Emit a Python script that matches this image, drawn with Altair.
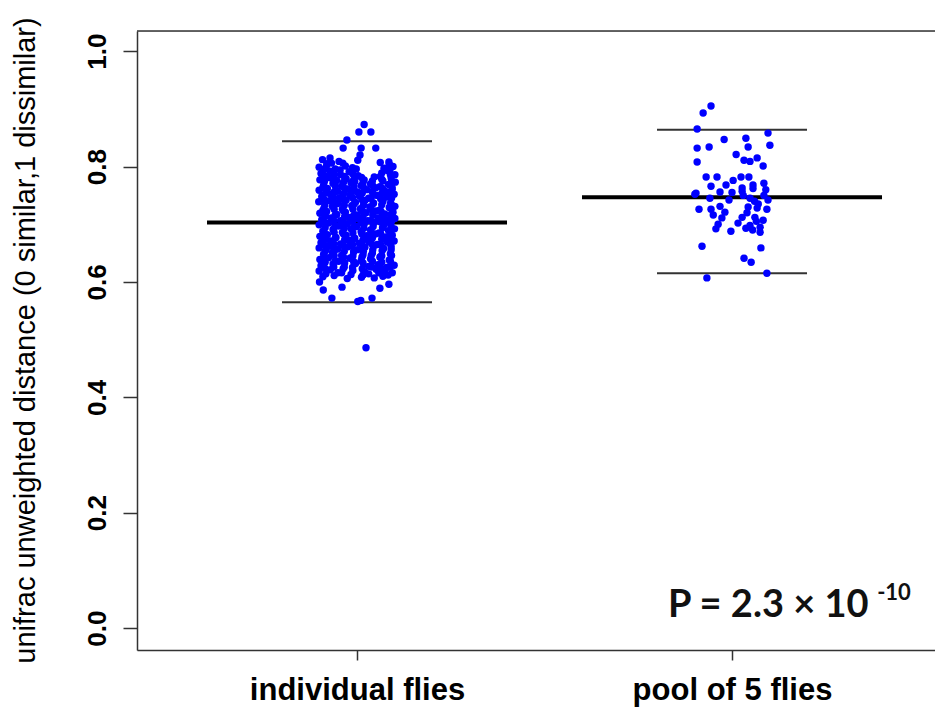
import altair as alt
import pandas as pd

# ---- data ----
groups = ["individual flies", "pool of 5 flies"]
centers = [1, 2]
means = [0.703, 0.747]
upper = [0.844, 0.864]
lower = [0.565, 0.615]

# (jitter offset, value) for individual flies
ind_points = [
    (0.019, 0.873), (0.005, 0.860), (0.037, 0.860), (-0.027, 0.846), (0.011, 0.832),
    (0.050, 0.832), (-0.037, 0.832), (0.008, 0.820), (-0.072, 0.815),
    (-0.067, 0.572), (0.010, 0.568), (0.040, 0.572), (-0.090, 0.586), (-0.040, 0.591),
    (0.061, 0.589), (0.085, 0.596), (-0.100, 0.600), (0.012, 0.608), (0.024, 0.486), (0.002, 0.566),
    (-0.092, 0.812), (-0.068, 0.806), (-0.048, 0.809), (0.002, 0.811), (0.062, 0.807), (0.086, 0.804),
    (-0.101, 0.799), (-0.081, 0.802), (-0.058, 0.796), (-0.031, 0.801), (-0.012, 0.798), (0.072, 0.797), (0.096, 0.800),
    (-0.096, 0.788), (-0.072, 0.792), (-0.044, 0.786), (-0.021, 0.791), (0.003, 0.784), (0.066, 0.789), (0.081, 0.793), (0.101, 0.786),
    (-0.099, 0.777), (-0.076, 0.781), (-0.054, 0.776), (-0.029, 0.779), (-0.006, 0.774), (0.019, 0.777), (0.046, 0.782), (0.069, 0.775), (0.091, 0.780),
    (-0.089, 0.768), (-0.064, 0.771), (-0.041, 0.766), (-0.016, 0.772), (0.011, 0.767), (0.036, 0.770), (0.061, 0.765), (0.084, 0.769), (0.102, 0.773),
    (-0.101, 0.759), (-0.079, 0.762), (-0.052, 0.757), (-0.024, 0.761), (0.001, 0.756), (0.026, 0.760), (0.049, 0.763), (0.076, 0.757), (0.094, 0.761),
    (-0.094, 0.748), (-0.071, 0.752), (-0.046, 0.746), (-0.019, 0.751), (0.006, 0.749), (0.031, 0.745), (0.054, 0.750), (0.081, 0.747), (0.099, 0.752),
    (-0.102, 0.739), (-0.074, 0.741), (-0.051, 0.736), (-0.029, 0.742), (-0.004, 0.738), (0.021, 0.741), (0.044, 0.737), (0.069, 0.740), (0.091, 0.735),
    (-0.088, 0.728), (-0.066, 0.731), (-0.039, 0.726), (-0.014, 0.732), (0.009, 0.727), (0.034, 0.730), (0.061, 0.725), (0.086, 0.729), (0.101, 0.731),
    (-0.099, 0.719), (-0.081, 0.722), (-0.054, 0.717), (-0.031, 0.721), (-0.001, 0.716), (0.024, 0.720), (0.051, 0.723), (0.074, 0.718), (0.096, 0.721),
    (-0.094, 0.708), (-0.069, 0.711), (-0.044, 0.706), (-0.021, 0.712), (0.004, 0.709), (0.029, 0.706), (0.056, 0.711), (0.079, 0.707), (0.101, 0.710),
    (-0.101, 0.699), (-0.076, 0.702), (-0.049, 0.697), (-0.026, 0.701), (-0.001, 0.696), (0.019, 0.700), (0.046, 0.703), (0.071, 0.698), (0.089, 0.701),
    (-0.091, 0.688), (-0.064, 0.691), (-0.039, 0.686), (-0.016, 0.692), (0.011, 0.687), (0.036, 0.690), (0.059, 0.685), (0.084, 0.689), (0.100, 0.692),
    (-0.099, 0.679), (-0.079, 0.682), (-0.056, 0.677), (-0.029, 0.681), (-0.006, 0.676), (0.026, 0.680), (0.049, 0.683), (0.076, 0.678), (0.094, 0.681),
    (-0.096, 0.668), (-0.071, 0.671), (-0.044, 0.666), (-0.021, 0.672), (0.006, 0.667), (0.031, 0.670), (0.054, 0.665), (0.081, 0.669), (0.099, 0.671),
    (-0.101, 0.659), (-0.074, 0.662), (-0.051, 0.657), (-0.024, 0.661), (0.001, 0.656), (0.021, 0.660), (0.046, 0.663), (0.071, 0.658), (0.091, 0.661),
    (-0.089, 0.648), (-0.066, 0.651), (-0.041, 0.646), (-0.009, 0.652), (0.016, 0.647), (0.041, 0.650), (0.066, 0.645), (0.089, 0.649),
    (-0.099, 0.639), (-0.076, 0.642), (-0.049, 0.636), (-0.019, 0.641), (0.011, 0.637), (0.036, 0.640), (0.061, 0.643), (0.086, 0.638),
    (-0.096, 0.628), (-0.064, 0.631), (-0.034, 0.626), (-0.004, 0.632), (0.031, 0.627), (0.056, 0.630), (0.079, 0.625), (0.099, 0.629),
    (-0.101, 0.619), (-0.071, 0.621), (-0.041, 0.616), (-0.011, 0.620), (0.021, 0.617), (0.051, 0.622), (0.074, 0.618), (0.094, 0.616),
    (-0.091, 0.609), (-0.061, 0.611), (-0.026, 0.606), (0.016, 0.612), (0.046, 0.607), (0.069, 0.610),
    (-0.080, 0.805), (-0.038, 0.806), (0.085, 0.808),
    (-0.088, 0.795), (-0.045, 0.794), (-0.002, 0.796), (0.088, 0.795),
    (-0.086, 0.784), (-0.061, 0.786), (-0.034, 0.783), (-0.011, 0.787), (0.012, 0.781), (0.062, 0.783), (0.089, 0.786),
    (-0.087, 0.774), (-0.063, 0.776), (-0.036, 0.773), (-0.009, 0.777), (0.016, 0.772), (0.041, 0.775), (0.066, 0.778), (0.092, 0.774),
    (-0.091, 0.764), (-0.058, 0.766), (-0.033, 0.762), (-0.008, 0.765), (0.018, 0.763), (0.043, 0.766), (0.068, 0.762), (0.093, 0.765),
    (-0.084, 0.754), (-0.061, 0.756), (-0.036, 0.753), (-0.011, 0.757), (0.014, 0.754), (0.041, 0.756), (0.066, 0.753), (0.089, 0.756),
    (-0.089, 0.744), (-0.062, 0.746), (-0.037, 0.743), (-0.012, 0.746), (0.013, 0.743), (0.038, 0.746), (0.063, 0.744), (0.092, 0.745),
    (-0.086, 0.734), (-0.059, 0.736), (-0.034, 0.733), (-0.008, 0.735), (0.017, 0.733), (0.043, 0.736), (0.066, 0.734), (0.089, 0.736),
    (-0.091, 0.724), (-0.061, 0.726), (-0.036, 0.723), (-0.011, 0.726), (0.014, 0.723), (0.039, 0.725), (0.064, 0.722), (0.093, 0.725),
    (-0.084, 0.714), (-0.058, 0.716), (-0.033, 0.713), (-0.009, 0.715), (0.016, 0.713), (0.042, 0.716), (0.067, 0.714), (0.089, 0.716),
    (-0.088, 0.704), (-0.062, 0.706), (-0.037, 0.703), (-0.012, 0.705), (0.012, 0.703), (0.037, 0.706), (0.063, 0.704), (0.092, 0.705),
    (-0.085, 0.694), (-0.059, 0.696), (-0.034, 0.693), (-0.008, 0.695), (0.018, 0.693), (0.043, 0.696), (0.068, 0.694), (0.091, 0.696),
    (-0.089, 0.684), (-0.061, 0.686), (-0.036, 0.683), (-0.011, 0.685), (0.013, 0.683), (0.038, 0.686), (0.063, 0.684), (0.088, 0.686),
    (-0.086, 0.674), (-0.058, 0.676), (-0.033, 0.673), (-0.009, 0.675), (0.016, 0.673), (0.041, 0.676), (0.066, 0.674), (0.092, 0.676),
    (-0.087, 0.664), (-0.062, 0.666), (-0.037, 0.663), (-0.012, 0.665), (0.014, 0.663), (0.039, 0.666), (0.064, 0.664), (0.089, 0.666),
    (-0.084, 0.654), (-0.059, 0.656), (-0.034, 0.653), (-0.008, 0.655), (0.017, 0.653), (0.042, 0.656), (0.067, 0.654), (0.091, 0.656),
    (-0.088, 0.644), (-0.061, 0.646), (-0.036, 0.643), (-0.011, 0.645), (0.013, 0.643), (0.038, 0.646), (0.063, 0.644), (0.092, 0.646),
    (-0.085, 0.634), (-0.058, 0.636), (-0.033, 0.633), (-0.009, 0.635), (0.016, 0.633), (0.041, 0.636), (0.066, 0.634), (0.089, 0.636),
    (-0.086, 0.624), (-0.062, 0.626), (-0.037, 0.623), (-0.012, 0.625), (0.014, 0.623), (0.039, 0.626), (0.064, 0.624), (0.088, 0.626),
    (-0.083, 0.614), (-0.051, 0.616), (-0.016, 0.613), (0.031, 0.614), (0.058, 0.616), (0.083, 0.612),
]

# (jitter offset, value) for pool of 5 flies
pool_points = [
    (-0.056, 0.905), (-0.077, 0.893), (-0.093, 0.865), (0.096, 0.858), (-0.021, 0.847),
    (0.037, 0.849), (0.101, 0.837), (0.043, 0.834), (-0.093, 0.832), (-0.061, 0.834),
    (0.011, 0.821), (0.032, 0.811), (0.048, 0.809), (0.067, 0.815), (0.083, 0.801),
    (-0.093, 0.808), (-0.069, 0.782), (-0.040, 0.782), (0.003, 0.776), (0.024, 0.782),
    (0.045, 0.782), (-0.056, 0.766), (-0.016, 0.768), (0.027, 0.763), (0.056, 0.768),
    (0.085, 0.771), (-0.096, 0.754), (-0.032, 0.756), (-0.099, 0.752), (0.027, 0.757),
    (0.056, 0.762), (-0.059, 0.745), (-0.008, 0.742), (0.048, 0.745), (0.096, 0.742),
    (-0.088, 0.726), (-0.056, 0.726), (-0.032, 0.731), (-0.019, 0.721), (0.043, 0.730),
    (0.067, 0.728), (0.093, 0.726), (0.027, 0.712), (0.061, 0.712), (0.083, 0.707),
    (0.016, 0.702), (0.048, 0.698), (-0.037, 0.700), (-0.043, 0.692), (-0.003, 0.688),
    (0.075, 0.686), (0.037, 0.693), (-0.080, 0.662), (0.077, 0.659), (0.032, 0.641),
    (0.051, 0.634), (-0.067, 0.607), (0.093, 0.615), (0.060, 0.740), (0.070, 0.735),
    (0.085, 0.750), (0.040, 0.720), (0.065, 0.705), (0.075, 0.695), (0.055, 0.690),
    (0.090, 0.760), (0.030, 0.750), (0.000, 0.755), (-0.050, 0.716), (-0.027, 0.711),
]

y_ticks = [0.0, 0.2, 0.4, 0.6, 0.8, 1.0]
p_text = "P = 2.3 × 10"
p_exp = "-10"
y_title = "unifrac unweighted distance (0 similar,1 dissimilar)"

# ---- tables ----
pts = pd.DataFrame(
    [{"x": centers[0] + o, "y": v, "group": groups[0]} for o, v in ind_points]
    + [{"x": centers[1] + o, "y": v, "group": groups[1]} for o, v in pool_points]
)
summ = pd.DataFrame({"group": groups, "c": centers, "mean": means, "up": upper, "lo": lower})
MEAN_HALF = 0.4
WHISK_HALF = 0.2
summ["m1"] = summ["c"] - MEAN_HALF
summ["m2"] = summ["c"] + MEAN_HALF
summ["w1"] = summ["c"] - WHISK_HALF
summ["w2"] = summ["c"] + WHISK_HALF

W, H = 798, 619
xscale = alt.Scale(domain=[0.4133, 2.5413], nice=False, zero=False)
yscale = alt.Scale(domain=[-0.038, 1.035], nice=False, zero=False)

label_expr = f"datum.value == 1 ? '{groups[0]}' : '{groups[1]}'"

xaxis = alt.Axis(
    values=centers, labelExpr=label_expr, title=None, grid=False,
    labelFont="Liberation Sans", labelFontWeight="bold", labelFontSize=31,
    labelColor="black", labelBaseline="alphabetic", labelPadding=39, labelLimit=0,
    tickSize=10, tickColor="#333", tickWidth=1.5,
    domainColor="#333", domainWidth=1.5,
)
yaxis = alt.Axis(
    values=y_ticks, format=".1f", grid=False,
    labelFont="Liberation Sans", labelFontWeight="bold", labelFontSize=26,
    labelColor="black", labelAngle=270, labelAlign="center", labelBaseline="alphabetic",
    labelPadding=18, tickSize=14, tickColor="#333", tickWidth=1.5,
    domainColor="#333", domainWidth=1.5,
    title=y_title, titleFont="Liberation Sans", titleFontWeight="normal", titleFontSize=29,
    titleColor="black", titleAngle=270, titleAlign="center", titleBaseline="middle",
    titleX=-112, titleY=309, titleLimit=0,
)

base_x = alt.X("x:Q", scale=xscale, axis=xaxis)
base_y = alt.Y("y:Q", scale=yscale, axis=yaxis)

mean_rules = alt.Chart(summ).mark_rule(color="black", strokeWidth=4).encode(
    x=alt.X("m1:Q", scale=xscale, axis=xaxis), x2="m2:Q",
    y=alt.Y("mean:Q", scale=yscale, axis=yaxis),
)
up_rules = alt.Chart(summ).mark_rule(color="#333", strokeWidth=2).encode(
    x=alt.X("w1:Q", scale=xscale, axis=xaxis), x2="w2:Q",
    y=alt.Y("up:Q", scale=yscale, axis=yaxis),
)
lo_rules = alt.Chart(summ).mark_rule(color="#333", strokeWidth=2).encode(
    x=alt.X("w1:Q", scale=xscale, axis=xaxis), x2="w2:Q",
    y=alt.Y("lo:Q", scale=yscale, axis=yaxis),
)
points = alt.Chart(pts).mark_circle(size=55, color="#0000FF", opacity=1).encode(
    x=base_x, y=base_y,
)
top_border = alt.Chart(summ.head(1)).mark_rule(color="#333", strokeWidth=1.5).encode(
    x=alt.value(0), x2=alt.value(W), y=alt.value(0),
)
p_mark = alt.Chart(summ.head(1)).mark_text(
    align="left", baseline="alphabetic", font="Lato", fontWeight="bold", fontSize=38, color="#111"
).encode(x=alt.datum(1.829), y=alt.datum(0.019), text=alt.value(p_text))
p_sup = alt.Chart(summ.head(1)).mark_text(
    align="left", baseline="alphabetic", font="Lato", fontWeight="bold", fontSize=22, color="#111"
).encode(x=alt.datum(2.387), y=alt.datum(0.048), text=alt.value(p_exp))

chart = alt.layer(mean_rules, up_rules, lo_rules, points, top_border, p_mark, p_sup).properties(
    width=W, height=H,
    autosize=alt.AutoSizeParams(type="none"),
    padding={"left": 129, "top": 23, "right": 0, "bottom": 57},
).configure_view(stroke=None).configure(background="white")

chart.save("out.html", embed_options={"renderer": "svg", "actions": False})
